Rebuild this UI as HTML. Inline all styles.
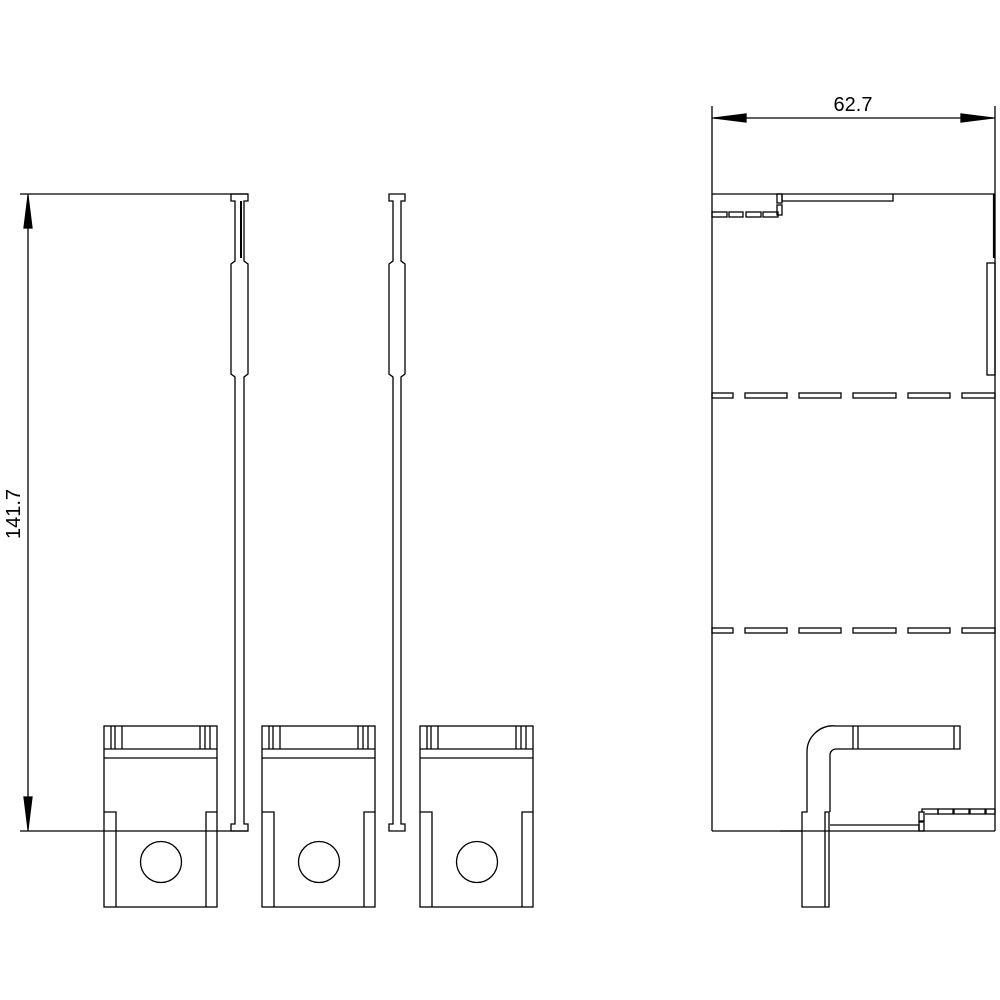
<!DOCTYPE html>
<html><head><style>html,body{margin:0;padding:0;background:#fff}svg{display:block}</style></head>
<body>
<svg width="1000" height="1000" viewBox="0 0 1000 1000" xmlns="http://www.w3.org/2000/svg" fill="none" stroke="#000" stroke-width="1.3">
<!-- left dimension -->
<line x1="20" y1="194" x2="248" y2="194"/>
<line x1="20" y1="831" x2="248" y2="831"/>
<line x1="28" y1="194" x2="28" y2="831"/>
<polygon points="28,196 24,228 32,228" fill="#000"/>
<polygon points="28,829 24,797 32,797" fill="#000"/>
<text x="0" y="0" transform="translate(20,514) rotate(-90)" text-anchor="middle" font-family="Liberation Sans, sans-serif" font-size="20" fill="#000" stroke="none">141.7</text>

<!-- strip 1 -->
<path d="M231,194 H248 V201 H244 V261 L248,264 V374 L244,377 V824 H248 V831 H231 V824 H235 V377 L231,374 V264 L235,261 V201 H231 Z"/>
<line x1="241" y1="201" x2="241" y2="258" stroke-width="2"/>
<!-- strip 2 -->
<path d="M389,194 H405 V201 H401 V261 L405,264 V374 L401,377 V824 H405 V831 H389 V824 H393 V377 L389,374 V264 L393,261 V201 H389 Z"/>

<!-- boxes -->
<g id="b1">
<rect x="104" y="726" width="113" height="181"/>
<line x1="104" y1="749" x2="217" y2="749"/>
<line x1="104" y1="758" x2="217" y2="758"/>
<line x1="111" y1="726" x2="111" y2="749"/><line x1="115" y1="726" x2="115" y2="749"/><line x1="122" y1="726" x2="122" y2="749"/>
<line x1="200" y1="726" x2="200" y2="749"/><line x1="205" y1="726" x2="205" y2="749"/><line x1="210" y1="726" x2="210" y2="749"/>
<path d="M104,812 H116 V907"/>
<path d="M217,812 H206 V907"/>
<circle cx="161" cy="862" r="20.5"/>
</g>
<use href="#b1" transform="translate(158,0)"/>
<use href="#b1" transform="translate(316,0)"/>

<!-- right view -->
<line x1="712" y1="106" x2="712" y2="831"/>
<line x1="995" y1="106" x2="995" y2="831"/>
<line x1="712" y1="118" x2="995" y2="118"/>
<polygon points="714,118 746,114 746,122" fill="#000"/>
<polygon points="993,118 961,114 961,122" fill="#000"/>
<text x="853" y="111" text-anchor="middle" font-family="Liberation Sans, sans-serif" font-size="20" fill="#000" stroke="none">62.7</text>
<line x1="712" y1="194" x2="995" y2="194"/>
<line x1="712" y1="831" x2="995" y2="831"/>
<line x1="780" y1="831" x2="802" y2="831"/>

<!-- top details -->
<path d="M782,194 V201 H893 V194"/>
<rect x="777" y="194" width="5" height="9"/>
<rect x="777" y="205" width="5" height="10"/>
<g>
<rect x="712" y="212" width="15" height="5"/><rect x="729" y="212" width="14" height="5"/>
<rect x="746" y="212" width="15" height="5"/><rect x="763" y="212" width="15" height="5"/>
</g>
<line x1="994" y1="194" x2="994" y2="258" stroke-width="2.2"/>
<rect x="987" y="263" width="8" height="112"/>

<!-- dashed rows -->
<g id="dr">
<rect x="712" y="393" width="21" height="5"/>
<rect x="745" y="393" width="42" height="5"/>
<rect x="799" y="393" width="42" height="5"/>
<rect x="853" y="393" width="43" height="5"/>
<rect x="908" y="393" width="42" height="5"/>
<rect x="962" y="393" width="33" height="5"/>
</g>
<use href="#dr" transform="translate(0,235)"/>

<!-- bend piece -->
<path d="M807,810 V752 A26,26 0 0 1 836,726 H960 V749 H836 A6,6 0 0 0 830,755 V812"/>
<path d="M807,810 V812 H802 V907 H829 V812 H825 V907"/>
<line x1="853" y1="726" x2="853" y2="749"/>
<line x1="858" y1="726" x2="858" y2="749"/>
<line x1="954" y1="726" x2="954" y2="749"/>
<path d="M830,825 H919 V831"/>
<rect x="919" y="822" width="5" height="9"/>
<rect x="919" y="812" width="5" height="9"/>
<path d="M922,812 V809 H938 V814 H925"/>
<rect x="938" y="809" width="15" height="5"/>
<rect x="954" y="809" width="15" height="5"/>
<rect x="970" y="809" width="15" height="5"/>
<rect x="986" y="809" width="9" height="5"/>
</svg>
</body></html>
